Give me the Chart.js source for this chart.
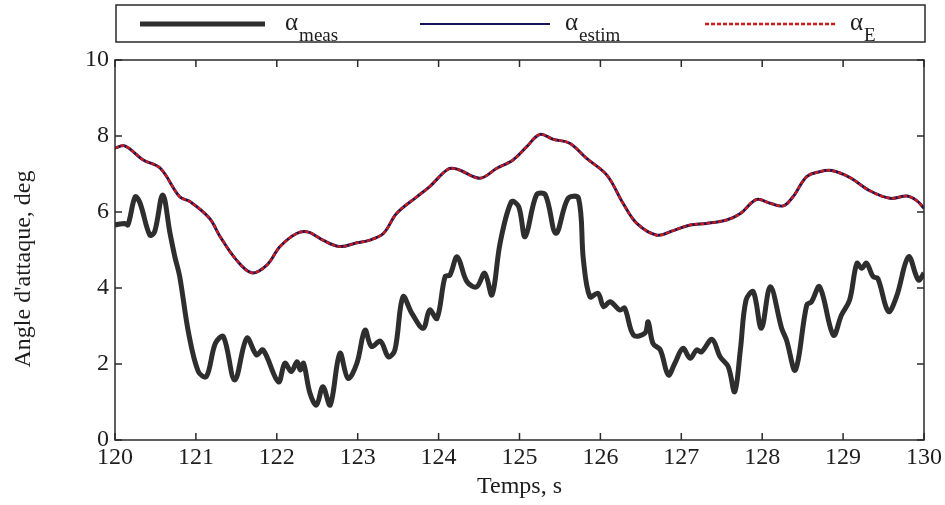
<!DOCTYPE html>
<html>
<head>
<meta charset="utf-8">
<script src="https://cdn.jsdelivr.net/npm/chart.js@4"></script>
<style>
  html, body { margin: 0; padding: 0; background: #fff; }
  #wrap { width: 945px; height: 505px; }
</style>
</head>
<body>
<div id="wrap"><canvas id="c" width="945" height="505"></canvas></div>
<script>
// values
const measTime = [120.0, 120.12, 120.16, 120.25, 120.31, 120.43, 120.49, 120.59, 120.68, 120.74, 120.80, 120.91, 121.03, 121.13, 121.24, 121.34, 121.48, 121.63, 121.75, 121.83, 122.02, 122.10, 122.18, 122.25, 122.29, 122.33, 122.41, 122.49, 122.57, 122.66, 122.78, 122.88, 122.99, 123.09, 123.17, 123.28, 123.38, 123.46, 123.56, 123.67, 123.81, 123.89, 123.98, 124.08, 124.14, 124.23, 124.35, 124.47, 124.57, 124.66, 124.76, 124.90, 124.99, 125.07, 125.21, 125.32, 125.45, 125.60, 125.73, 125.79, 125.87, 125.97, 126.04, 126.12, 126.24, 126.30, 126.41, 126.55, 126.59, 126.65, 126.74, 126.84, 126.92, 127.02, 127.11, 127.19, 127.25, 127.38, 127.48, 127.58, 127.66, 127.73, 127.80, 127.89, 127.99, 128.10, 128.24, 128.30, 128.41, 128.55, 128.61, 128.71, 128.88, 128.98, 129.08, 129.17, 129.23, 129.29, 129.37, 129.43, 129.56, 129.66, 129.81, 129.93, 130.0];
const measValues = [5.66, 5.70, 5.66, 6.40, 6.23, 5.39, 5.48, 6.45, 5.44, 4.82, 4.30, 2.81, 1.80, 1.67, 2.54, 2.72, 1.58, 2.68, 2.24, 2.37, 1.53, 2.02, 1.80, 2.06, 1.84, 2.02, 1.23, 0.92, 1.40, 0.92, 2.28, 1.62, 2.02, 2.89, 2.46, 2.60, 2.19, 2.37, 3.77, 3.33, 2.94, 3.42, 3.20, 4.30, 4.34, 4.82, 4.17, 4.03, 4.39, 3.82, 5.18, 6.27, 6.14, 5.35, 6.45, 6.45, 5.44, 6.36, 6.36, 4.74, 3.77, 3.86, 3.51, 3.64, 3.42, 3.47, 2.76, 2.81, 3.11, 2.54, 2.37, 1.71, 2.02, 2.41, 2.15, 2.37, 2.32, 2.65, 2.19, 1.93, 1.27, 2.37, 3.68, 3.90, 2.94, 4.03, 2.94, 2.63, 1.84, 3.55, 3.64, 4.03, 2.76, 3.29, 3.68, 4.65, 4.52, 4.65, 4.30, 4.25, 3.38, 3.77, 4.82, 4.21, 4.39];

const estimTime = [120.0, 120.12, 120.35, 120.56, 120.80, 120.93, 121.17, 121.30, 121.50, 121.69, 121.88, 122.04, 122.25, 122.39, 122.57, 122.78, 122.99, 123.15, 123.32, 123.48, 123.73, 123.89, 124.12, 124.24, 124.51, 124.72, 124.92, 125.09, 125.25, 125.42, 125.62, 125.83, 126.08, 126.28, 126.45, 126.70, 126.90, 127.11, 127.31, 127.56, 127.73, 127.93, 128.10, 128.26, 128.38, 128.55, 128.71, 128.86, 129.08, 129.33, 129.58, 129.79, 129.91, 130.0];
const estimValues = [7.68, 7.74, 7.37, 7.15, 6.40, 6.27, 5.83, 5.35, 4.74, 4.40, 4.61, 5.09, 5.44, 5.47, 5.26, 5.09, 5.19, 5.26, 5.44, 5.96, 6.40, 6.67, 7.13, 7.12, 6.89, 7.15, 7.37, 7.72, 8.04, 7.91, 7.81, 7.41, 6.97, 6.23, 5.70, 5.39, 5.51, 5.66, 5.70, 5.79, 5.96, 6.33, 6.23, 6.16, 6.40, 6.93, 7.06, 7.09, 6.91, 6.56, 6.36, 6.42, 6.30, 6.10];
// alpha_E lies on top of alpha_estim in the picture
const eValues = [7.68, 7.74, 7.37, 7.15, 6.40, 6.27, 5.83, 5.35, 4.74, 4.40, 4.61, 5.09, 5.44, 5.47, 5.26, 5.09, 5.19, 5.26, 5.44, 5.96, 6.40, 6.67, 7.13, 7.12, 6.89, 7.15, 7.37, 7.72, 8.04, 7.91, 7.81, 7.41, 6.97, 6.23, 5.70, 5.39, 5.51, 5.66, 5.70, 5.79, 5.96, 6.33, 6.23, 6.16, 6.40, 6.93, 7.06, 7.09, 6.91, 6.56, 6.36, 6.42, 6.30, 6.10];

const xTicks = [120, 121, 122, 123, 124, 125, 126, 127, 128, 129, 130];
const yTicks = [0, 2, 4, 6, 8, 10];
const yTitle = "Angle d'attaque, deg";

const serif = "'Liberation Serif', 'DejaVu Serif', serif";
const ink = "#1e1e1e";
const toPoints = (xs, ys) => xs.map((x, i) => ({ x: x, y: ys[i] }));

// box frame, inward ticks, y title and the boxed legend above the plot
const framePlugin = {
    id: "frame",
    afterDraw(chart) {
        const { ctx, chartArea: a, scales } = chart;
        ctx.save();
        ctx.strokeStyle = "#2a2a2a";
        ctx.lineWidth = 1.5;
        ctx.strokeRect(a.left, a.top, a.right - a.left, a.bottom - a.top);
        ctx.beginPath();
        xTicks.forEach((v) => {
            const px = scales.x.getPixelForValue(v);
            ctx.moveTo(px, a.bottom); ctx.lineTo(px, a.bottom - 7);
            ctx.moveTo(px, a.top); ctx.lineTo(px, a.top + 7);
        });
        yTicks.forEach((v) => {
            const py = scales.y.getPixelForValue(v);
            ctx.moveTo(a.left, py); ctx.lineTo(a.left + 7, py);
            ctx.moveTo(a.right, py); ctx.lineTo(a.right - 7, py);
        });
        ctx.stroke();

        // y title sits a bit below the middle of the plot in the original
        ctx.save();
        ctx.translate(24, 269);
        ctx.rotate(-Math.PI / 2);
        ctx.fillStyle = ink;
        ctx.font = "24px " + serif;
        ctx.textAlign = "center";
        ctx.textBaseline = "middle";
        ctx.fillText(yTitle, 0, 0);
        ctx.restore();

        // legend
        ctx.lineWidth = 1.5;
        ctx.strokeStyle = "#2a2a2a";
        ctx.strokeRect(a.left + 1, 5, a.right - a.left, 37);
        const items = [
            { x0: 140, x1: 265, color: "#2e2e2e", width: 5, dash: [], sub: "meas", tx: 285 },
            { x0: 420, x1: 550, color: "#14145a", width: 2, dash: [], sub: "estim", tx: 565 },
            { x0: 705, x1: 835, color: "#cc1a1a", width: 2.5, dash: [4, 2], sub: "E", tx: 850 },
        ];
        items.forEach((it) => {
            ctx.beginPath();
            ctx.setLineDash(it.dash);
            ctx.strokeStyle = it.color;
            ctx.lineWidth = it.width;
            ctx.moveTo(it.x0, 24); ctx.lineTo(it.x1, 24);
            ctx.stroke();
            ctx.setLineDash([]);
            ctx.fillStyle = ink;
            ctx.textBaseline = "alphabetic";
            ctx.textAlign = "left";
            ctx.font = "25px " + serif;
            ctx.fillText("\u03b1", it.tx, 30);
            const w = ctx.measureText("\u03b1").width;
            ctx.font = "19px " + serif;
            ctx.fillText(it.sub, it.tx + w + 1, 41);
        });
        ctx.restore();
    },
};

new Chart(document.getElementById("c"), {
    type: "line",
    data: {
        datasets: [
            {
                label: "\u03b1 meas",
                data: toPoints(measTime, measValues),
                borderColor: "#2e2e2e",
                borderWidth: 5,
                pointRadius: 0,
                tension: 0.35,
                order: 2,
            },
            {
                label: "\u03b1 estim",
                data: toPoints(estimTime, estimValues),
                borderColor: "#14145a",
                borderWidth: 3,
                pointRadius: 0,
                tension: 0.35,
                order: 1,
            },
            {
                label: "\u03b1 E",
                data: toPoints(estimTime, eValues),
                borderColor: "#cc1a1a",
                borderWidth: 2.5,
                borderDash: [4, 2],
                pointRadius: 0,
                tension: 0.35,
                order: 0,
            },
        ],
    },
    options: {
        responsive: false,
        animation: false,
        layout: { padding: { top: 60, right: 21, left: 0, bottom: 0 } },
        plugins: { legend: { display: false }, tooltip: { enabled: false } },
        scales: {
            x: {
                type: "linear",
                min: 120,
                max: 130,
                afterFit: (s) => { s.height = 65; },
                afterBuildTicks: (s) => { s.ticks = xTicks.map((v) => ({ value: v })); },
                grid: { display: false, drawTicks: false },
                border: { display: false },
                ticks: { color: ink, font: { family: serif, size: 24 }, padding: 3 },
                title: { display: true, text: "Temps, s", color: ink, font: { family: serif, size: 24 }, padding: { top: 0, bottom: 4 } },
            },
            y: {
                min: 0,
                max: 10,
                afterFit: (s) => { s.width = 115; },
                afterBuildTicks: (s) => { s.ticks = yTicks.map((v) => ({ value: v })); },
                grid: { display: false, drawTicks: false },
                border: { display: false },
                ticks: { color: ink, font: { family: serif, size: 24 }, padding: 6 },
                title: { display: false },
            },
        },
    },
    plugins: [framePlugin],
});
</script>
</body>
</html>
